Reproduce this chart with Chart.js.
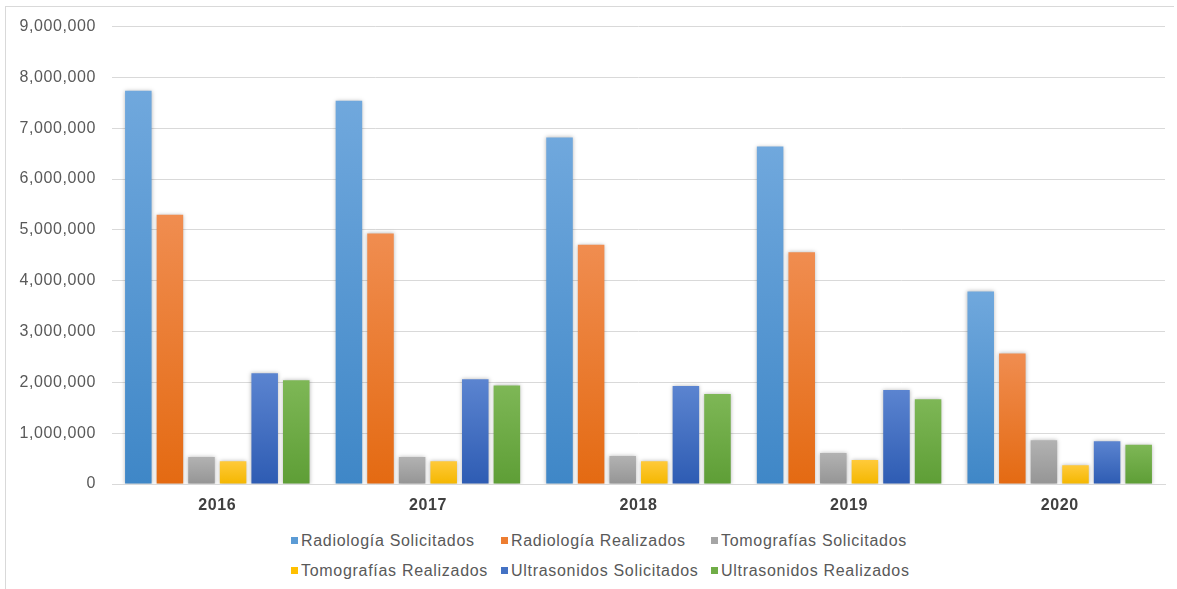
<!DOCTYPE html>
<html lang="es">
<head>
<meta charset="UTF-8">
<title>Estudios de imagen 2016-2020</title>
<script src="https://cdn.jsdelivr.net/npm/chart.js"></script>
<style>
  html, body { margin: 0; padding: 0; background: #fff; }
  #frame {
    position: absolute; left: 5px; top: 6px; width: 1168px; height: 582px;
    border: 1px solid #d9d9d9; border-bottom: none; border-right: none;
  }
  #wrap { position: absolute; left: 0; top: -6px; width: 1168px; height: 521px; }
  #legend {
    position: absolute; left: 285px; top: 524px; width: 640px;
    display: grid; grid-template-columns: 210px 210px 220px; row-gap: 11px;
    font-family: "Liberation Sans", Arial, sans-serif; font-size: 16px;
    color: #595959; letter-spacing: 0.7px;
  }
  .item { display: flex; align-items: center; white-space: nowrap; height: 19px; }
  .box { width: 7px; height: 7px; margin-right: 3px; flex: none; }
</style>
</head>
<body>
<div id="frame">
  <div id="wrap"><canvas id="chart"></canvas></div>
  <div id="legend"></div>
</div>
<script>
// data
const years = ['2016', '2017', '2018', '2019', '2020'];
const radiologiaSolicitados = [7740000, 7540000, 6820000, 6640000, 3790000];
const radiologiaRealizados = [5300000, 4930000, 4710000, 4560000, 2570000];
const tomografiasSolicitados = [530000, 530000, 550000, 610000, 860000];
const tomografiasRealizados = [450000, 450000, 450000, 470000, 370000];
const ultrasonidosSolicitados = [2180000, 2060000, 1930000, 1850000, 840000];
const ultrasonidosRealizados = [2040000, 1940000, 1770000, 1670000, 770000];
const yTicks = [0, 1000000, 2000000, 3000000, 4000000, 5000000, 6000000, 7000000, 8000000, 9000000];

// [legend colour, gradient top, gradient bottom]
const series = [
  ['Radiología Solicitados', radiologiaSolicitados, '#5B9BD5', '#70A8DD', '#3F87C7'],
  ['Radiología Realizados', radiologiaRealizados, '#ED7D31', '#F08D50', '#E46A12'],
  ['Tomografías Solicitados', tomografiasSolicitados, '#A5A5A5', '#B2B2B2', '#959595'],
  ['Tomografías Realizados', tomografiasRealizados, '#FFC000', '#FFCA3A', '#F4B700'],
  ['Ultrasonidos Solicitados', ultrasonidosSolicitados, '#4472C4', '#5B84D0', '#2E5CB3'],
  ['Ultrasonidos Realizados', ultrasonidosRealizados, '#70AD47', '#7EB756', '#5E9E36']
];

function barGradient(top, bottom) {
  return function (ctx) {
    const chart = ctx.chart;
    if (!chart.chartArea || ctx.raw == null) return top;
    const y = chart.scales.y;
    const y0 = y.getPixelForValue(ctx.raw);
    const y1 = y.getPixelForValue(0);
    if (!isFinite(y0) || y1 - y0 < 1) return bottom;
    const g = chart.ctx.createLinearGradient(0, y0, 0, y1);
    g.addColorStop(0, top);
    g.addColorStop(1, bottom);
    return g;
  };
}

const datasets = series.map(s => ({
  label: s[0],
  data: s[1],
  backgroundColor: barGradient(s[3], s[4]),
  legendColor: s[2],
  borderWidth: 0,
  categoryPercentage: 0.9,
  barPercentage: 0.84
}));

const spacing = {
  id: 'spacing',
  beforeDraw(chart) { chart.ctx.letterSpacing = '0.6px'; }
};

// soft grey halo round the bars, like the office chart
const barShadow = {
  id: 'barShadow',
  beforeDatasetsDraw(chart) {
    const c = chart.ctx;
    c.save();
    c.shadowColor = 'rgba(0,0,0,0.28)';
    c.shadowBlur = 4;
    c.shadowOffsetX = 0;
    c.shadowOffsetY = 0;
  },
  afterDatasetsDraw(chart) { chart.ctx.restore(); }
};

const chart = new Chart(document.getElementById('chart'), {
  type: 'bar',
  data: { labels: years, datasets: datasets },
  plugins: [spacing, barShadow],
  options: {
    responsive: true,
    maintainAspectRatio: false,
    animation: false,
    layout: { padding: { top: 13, right: 9, left: 0, bottom: 0 } },
    plugins: {
      legend: { display: false },
      tooltip: { enabled: false }
    },
    scales: {
      x: {
        grid: { display: false, drawTicks: false },
        border: { display: true, color: '#d9d9d9' },
        ticks: {
          padding: 12,
          color: '#404040',
          font: { family: '"Liberation Sans", Arial, sans-serif', size: 16, weight: 'bold' }
        },
        afterFit(scale) { scale.height = 38; }
      },
      y: {
        min: 0,
        max: 9000000,
        afterBuildTicks(scale) { scale.ticks = yTicks.map(v => ({ value: v })); },
        grid: { color: '#d9d9d9', drawTicks: false },
        border: { display: false },
        ticks: {
          padding: 16,
          color: '#595959',
          font: { family: '"Liberation Sans", Arial, sans-serif', size: 16 },
          callback: v => v.toLocaleString('en-US')
        },
        afterFit(scale) { scale.width = 106; }
      }
    }
  }
});

// legend in three columns, two rows, as in the reference
const legend = document.getElementById('legend');
chart.data.datasets.forEach(ds => {
  const item = document.createElement('div');
  item.className = 'item';
  const box = document.createElement('span');
  box.className = 'box';
  box.style.background = ds.legendColor;
  const text = document.createElement('span');
  text.textContent = ds.label;
  item.appendChild(box);
  item.appendChild(text);
  legend.appendChild(item);
});
</script>
</body>
</html>
